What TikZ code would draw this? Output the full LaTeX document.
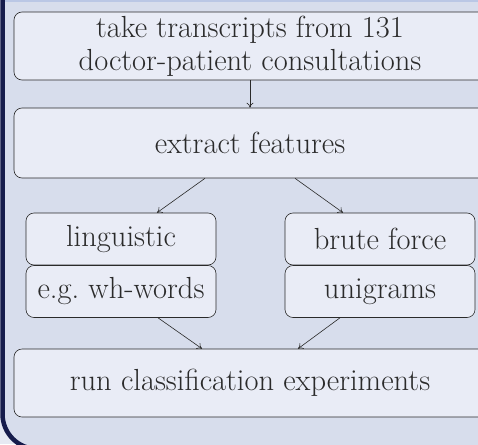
\documentclass[tikz,border=0pt]{standalone}
\usepackage{xcolor}
\usepackage{tikz}
\usetikzlibrary{arrows.meta}
\definecolor{outer}{HTML}{E6E9F3}
\definecolor{bg}{HTML}{D7DDEC}
\definecolor{boxfill}{HTML}{E9ECF6}
\definecolor{navy}{HTML}{161C4C}
\definecolor{strip}{HTML}{BAC7E5}
\definecolor{ink}{HTML}{2A2A2A}
\tikzset{
  frame/.style={fill=bg, draw=navy, line width=4.5pt, rounded corners=35pt},
  stepbox/.style={draw=ink, fill=boxfill, rounded corners=8pt, line width=0.6pt,
    text=ink, align=center, font=\fontsize{30.5}{33}\selectfont, inner sep=0pt},
  wide/.style={stepbox, minimum width=472pt},
  half/.style={stepbox, minimum width=190pt, minimum height=52pt},
  arr/.style={-{To[length=5pt,width=7pt]}, line width=0.6pt, draw=ink}
}
\begin{document}
\begin{tikzpicture}[x=1pt,y=-1pt]
  \useasboundingbox (0,0) rectangle (478,444);
  \clip (0,0) rectangle (478,444);
  \fill[outer] (0,0) rectangle (478,444);
  \filldraw[frame] (2.5,-40) rectangle (600,449);
  \fill[strip] (5,0) rectangle (478,2.5);

  \node[wide, minimum height=68pt] (transcripts) at (250,46) {take transcripts from 131\\doctor-patient consultations};
  \node[wide, minimum height=70pt] (features) at (250,143) {extract features};
  \node[half] (ling) at (121,239) {linguistic};
  \node[half] (wh) at (121,291.5) {e.g.\ wh-words};
  \node[half] (brute) at (380,239) {brute force};
  \node[half] (uni) at (380,291.5) {unigrams};
  \node[wide, minimum height=68pt] (run) at (250,383) {run classification experiments};

  \draw[arr] (transcripts.south) -- (features.north);
  \draw[arr] ([xshift=-45pt]features.south) -- ([xshift=36pt]ling.north);
  \draw[arr] ([xshift=45pt]features.south) -- ([xshift=-37pt]brute.north);
  \draw[arr] ([xshift=37pt]wh.south) -- ([xshift=-48pt]run.north);
  \draw[arr] ([xshift=-40pt]uni.south) -- ([xshift=48pt]run.north);
\end{tikzpicture}
\end{document}
